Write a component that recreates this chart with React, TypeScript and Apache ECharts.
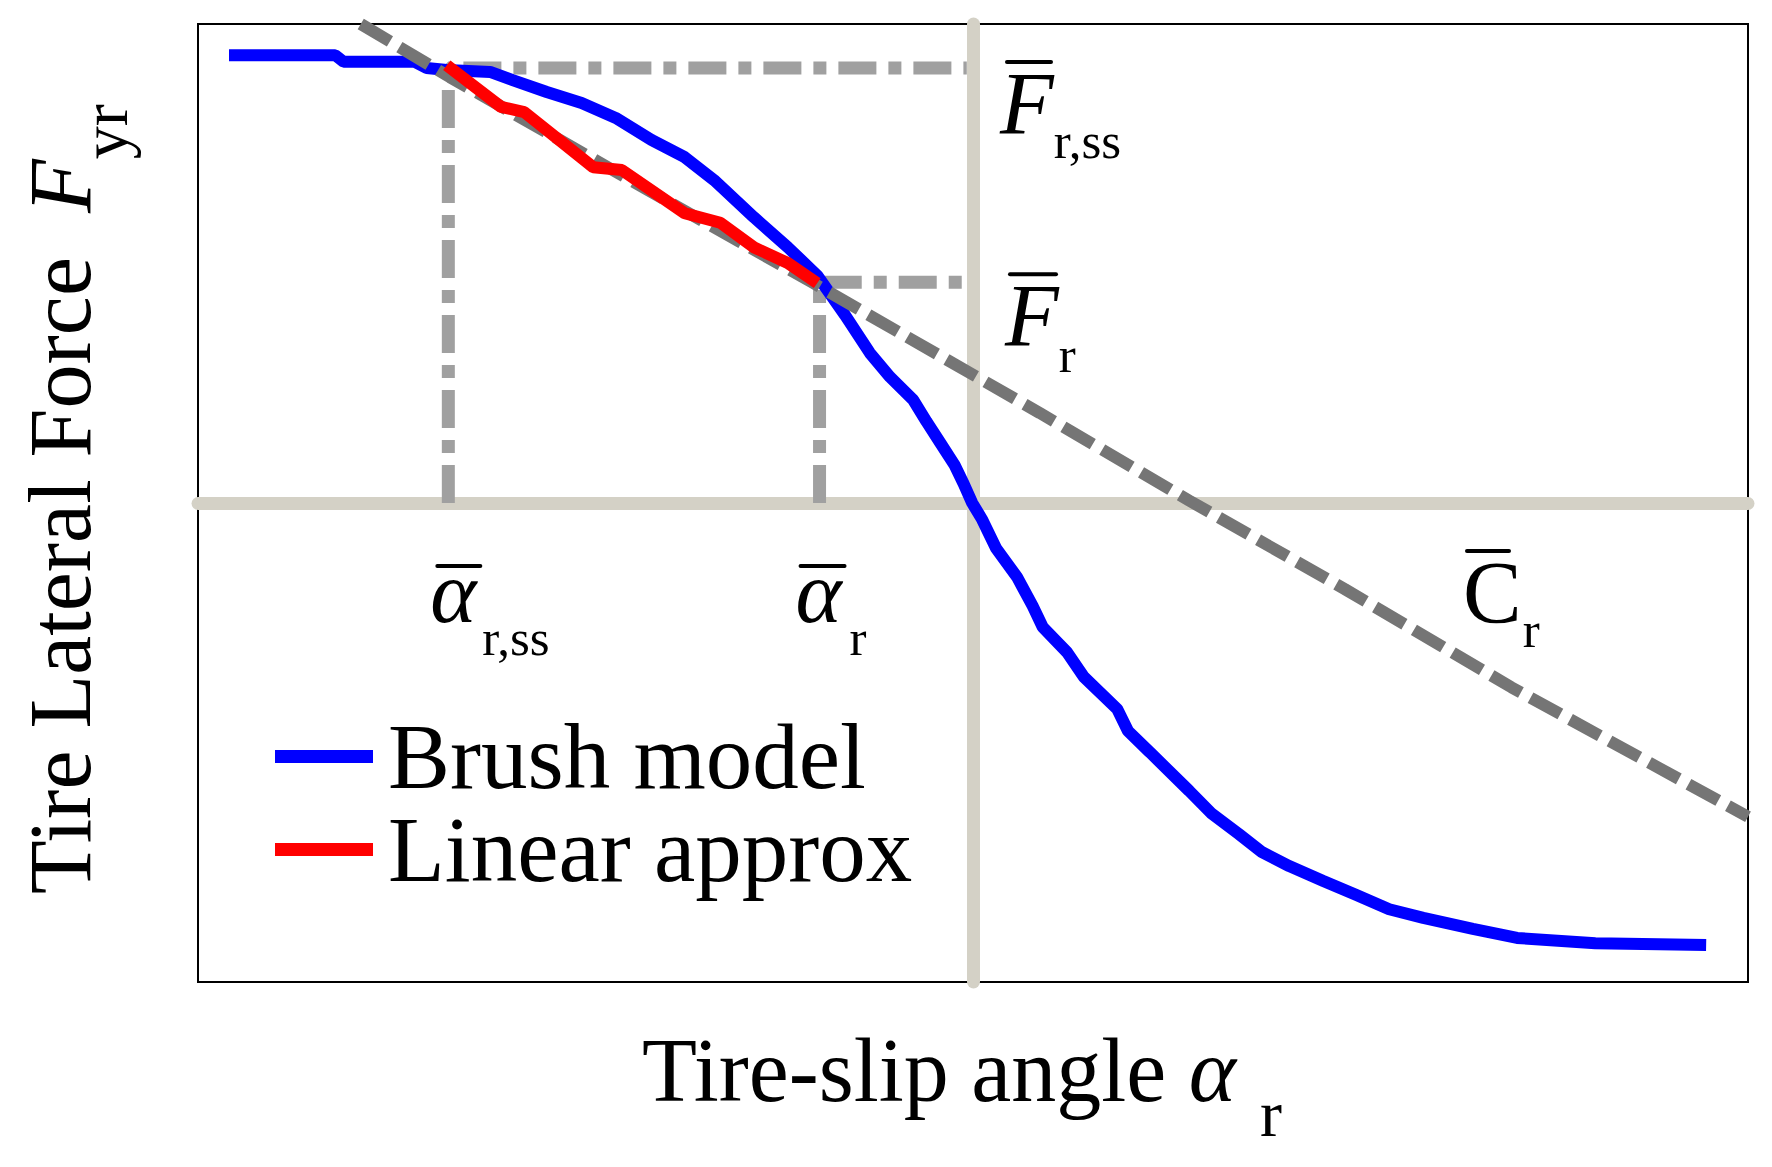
import React, { useEffect, useRef } from "react";
import * as echarts from "echarts";

// ---- data (slip angle x, lateral force y), arbitrary normalized units ----
const brushX = [-9.6, -8.23, -8.12, -7.2, -7.05, -6.79, -6.23, -5.94, -5.5, -5.05, -4.61, -4.15, -3.72, -3.34, -2.83, -2.39, -2.01, -1.65, -1.33, -1.07, -0.77, -0.6, -0.42, -0.24, -0.12, -0.01, 0.12, 0.3, 0.57, 0.77, 0.9, 1.21, 1.43, 1.86, 2.0, 2.28, 2.79, 3.07, 3.43, 3.73, 4.08, 4.52, 4.94, 5.37, 5.81, 6.45, 7.02, 8.03, 9.46];
const brushY = [9.35, 9.35, 9.21, 9.21, 9.08, 9.04, 9.0, 8.83, 8.58, 8.35, 8.04, 7.58, 7.22, 6.74, 5.97, 5.34, 4.75, 3.92, 3.13, 2.63, 2.15, 1.7, 1.25, 0.8, 0.4, 0.0, -0.35, -0.95, -1.55, -2.15, -2.59, -3.11, -3.63, -4.3, -4.76, -5.2, -6.01, -6.47, -6.91, -7.29, -7.58, -7.89, -8.18, -8.48, -8.66, -8.89, -9.08, -9.19, -9.23];

const linearX = [-6.79, -6.09, -5.79, -4.9, -4.53, -3.72, -3.26, -2.83, -2.39, -2.01];
const linearY = [9.14, 8.27, 8.16, 7.01, 6.95, 6.05, 5.85, 5.34, 5.01, 4.59];

const tangentX = [-7.9, -6.75, -4.15, -2.06, 0.86, 2.79, 4.8, 6.95, 10.0];
const tangentY = [10.0, 8.89, 6.49, 4.59, 1.88, 0.05, -1.8, -3.85, -6.55];

const alphaSS = -6.77;
const alphaR = -1.98;
const forceSS = 9.08;
const forceR = 4.61;
const guideEndX = -0.08;

const seriesNames = ["Brush model", "Linear approx"];
const xRange = [-10, 10];
const yRange = [-10, 10];

const FONT = "'Liberation Serif', 'Times New Roman', serif";
const CENTRAL = 0.3375; // central baseline offset above alphabetic baseline, em

const zip = (xs: number[], ys: number[]) => xs.map((x, i) => [x, ys[i]]);

export default function App() {
  const ref = useRef<HTMLDivElement>(null);

  useEffect(() => {
    const el = ref.current!;
    const chart = echarts.init(el, null, { renderer: "svg" });
    const beige = "#d4d1c6";
    const dashDot = "#a0a0a0";

    chart.setOption({
      animation: false,
      backgroundColor: "#ffffff",
      grid: {
        left: 198,
        right: 24,
        top: 24,
        bottom: 185,
        show: true,
        borderColor: "#000000",
        borderWidth: 2,
        backgroundColor: "transparent",
      },
      xAxis: {
        type: "value",
        min: xRange[0],
        max: xRange[1],
        axisLine: { onZero: true, lineStyle: { color: beige, width: 13 } },
        axisTick: { show: false },
        axisLabel: { show: false },
        splitLine: { show: false },
      },
      yAxis: {
        type: "value",
        min: yRange[0],
        max: yRange[1],
        axisLine: { onZero: true, lineStyle: { color: beige, width: 13 } },
        axisTick: { show: false },
        axisLabel: { show: false },
        splitLine: { show: false },
      },
      legend: {
        data: seriesNames.map((n) => ({ name: n, icon: "rect" })),
        orient: "vertical",
        left: 275,
        top: 710,
        padding: 0,
        itemWidth: 98,
        itemHeight: 13,
        itemGap: 0,
        selectedMode: false,
        textStyle: {
          fontFamily: FONT,
          fontSize: 93,
          color: "#000",
          lineHeight: 83,
          padding: [0, 0, 0, 10],
        },
      },
      series: [
        {
          name: "guide-ss",
          type: "line",
          data: [
            [alphaSS, 0],
            [alphaSS, forceSS],
            [guideEndX, forceSS],
          ],
          showSymbol: false,
          silent: true,
          lineStyle: { color: dashDot, width: 13, type: [38, 12, 13, 12] },
        },
        {
          name: "guide-r",
          type: "line",
          data: [
            [alphaR, 0],
            [alphaR, forceR],
            [guideEndX, forceR],
          ],
          showSymbol: false,
          silent: true,
          lineStyle: { color: dashDot, width: 13, type: [38, 12, 13, 12] },
        },
        {
          name: seriesNames[0],
          type: "line",
          data: zip(brushX, brushY),
          showSymbol: false,
          color: "#0000ff",
          lineStyle: { color: "#0000ff", width: 12 },
        },
        {
          name: "tangent",
          type: "line",
          data: zip(tangentX, tangentY),
          showSymbol: false,
          silent: true,
          lineStyle: { color: "#757575", width: 12, type: [34, 11] },
        },
        {
          name: seriesNames[1],
          type: "line",
          data: zip(linearX, linearY),
          showSymbol: false,
          color: "#ff0000",
          lineStyle: { color: "#ff0000", width: 12 },
        },
      ],
    });

    const ctx = document.createElement("canvas").getContext("2d")!;
    const tw = (text: string, size: number, italic = false) => {
      ctx.font = `${italic ? "italic " : ""}${size}px ${FONT}`;
      return ctx.measureText(text).width;
    };
    const T = (x: number, baseline: number, text: string, size: number, italic = false) => ({
      type: "text",
      x,
      y: baseline - CENTRAL * size,
      silent: true,
      style: {
        text,
        fontSize: size,
        fontFamily: FONT,
        fontStyle: italic ? "italic" : "normal",
        fill: "#000",
        align: "left",
        verticalAlign: "middle",
      },
    });
    const bar = (x1: number, x2: number, y: number) => ({
      type: "line",
      silent: true,
      shape: { x1, y1: y, x2, y2: y },
      style: { stroke: "#000", lineWidth: 4, lineCap: "round" },
    });
    const px = (x: number, y: number) => chart.convertToPixel({ gridIndex: 0 }, [x, y]) as number[];

    const aFss = px(0, forceSS);
    const aFr = px(0, forceR);
    const aAss = px(alphaSS, 0);
    const aAr = px(alphaR, 0);
    const o = px(0, 0);

    const main = 88;
    const sub = 51;
    const wFi = tw("F", main, true);
    const wAl = tw("α", main, true);
    const wC = tw("C", main);

    const graphics: any[] = [];
    // F̄ r,ss
    {
      const fx = aFss[0] + 27;
      graphics.push(T(fx, aFss[1] + 65, "F", main, true));
      graphics.push(T(Math.max(aFss[0] + 69, fx + wFi), aFss[1] + 90, "r,ss", sub));
      graphics.push(bar(aFss[0] + 34, aFss[0] + 78, aFss[1] - 6));
    }
    // F̄ r
    {
      const fx = aFr[0] + 32;
      graphics.push(T(fx, aFr[1] + 63, "F", main, true));
      graphics.push(T(Math.max(aFr[0] + 74, fx + wFi), aFr[1] + 90, "r", sub));
      graphics.push(bar(aFr[0] + 37, aFr[0] + 83, aFr[1] - 8));
    }
    // ᾱ r,ss
    {
      const ax = aAss[0] - 18;
      graphics.push(T(ax, aAss[1] + 119, "α", main, true));
      graphics.push(T(Math.max(aAss[0] + 34, ax + wAl + 1), aAss[1] + 152, "r,ss", sub));
      graphics.push(bar(aAss[0] - 11, aAss[0] + 32, aAss[1] + 63));
    }
    // ᾱ r
    {
      const ax = aAr[0] - 24;
      graphics.push(T(ax, aAr[1] + 119, "α", main, true));
      graphics.push(T(Math.max(aAr[0] + 30, ax + wAl + 1), aAr[1] + 152, "r", sub));
      graphics.push(bar(aAr[0] - 19, aAr[0] + 25, aAr[1] + 63));
    }
    // C̄ r
    {
      const cx = o[0] + 490;
      graphics.push(T(cx, o[1] + 119, "C", main));
      graphics.push(T(Math.max(o[0] + 545, cx + wC + 1), o[1] + 144, "r", sub));
      graphics.push(bar(o[0] + 494, o[0] + 536, o[1] + 48));
    }

    // x-axis title
    const xt = "Tire-slip angle ";
    const xSize = 90;
    const xLeft = 642;
    const xBase = 1101;
    const wX = tw(xt, xSize);
    const wA = tw("α", xSize, true);
    graphics.push(T(xLeft, xBase, xt.trimEnd(), xSize));
    graphics.push(T(xLeft + wX, xBase, "α", xSize, true));
    graphics.push(T(xLeft + wX + wA + 24, xBase + 35, "r", 66));

    // y-axis title (rotated)
    const yt = "Tire Lateral Force";
    const ySize = 88;
    const wY = tw(yt, ySize) + 2 * tw(" ", ySize);
    const wF = tw("F", ySize, true);
    graphics.push({
      type: "group",
      x: 90,
      y: 894,
      rotation: Math.PI / 2,
      silent: true,
      children: [
        T(0, 0, yt, ySize),
        T(wY, 0, "F", ySize, true),
        T(wY + wF, 37, "yr", 66),
      ],
    });

    chart.setOption({ graphic: graphics });

    return () => chart.dispose();
  }, []);

  return (
    <div
      ref={ref}
      style={{ position: "fixed", left: 0, top: 0, width: 1772, height: 1167, background: "#fff" }}
    />
  );
}
